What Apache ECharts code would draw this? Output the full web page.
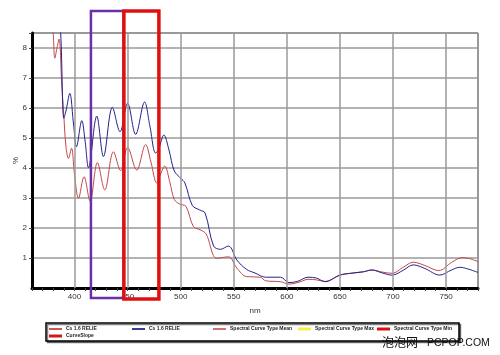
<!DOCTYPE html>
<html>
<head>
<meta charset="utf-8">
<script src="https://cdn.jsdelivr.net/npm/echarts@6/dist/echarts.min.js"></script>
<style>html,body{margin:0;padding:0;background:#fff}#c{width:500px;height:355px}</style>
</head>
<body>
<div id="c"></div>
<script>
// wavelengths (nm) and values (%)
var blueNm  = [380, 384, 387, 390, 392, 395.6, 399, 401.9, 406.9, 410, 413.2, 421, 427.3, 435.7, 442.9, 450, 457.6, 466, 471, 476.4, 479, 484.2, 489, 494, 500, 504, 511, 518, 523, 531, 537.5, 545, 553, 562, 570, 580, 594, 602, 610, 620, 628, 636, 650, 660, 672, 680, 690, 699, 710, 719, 730, 744, 755, 763, 770, 780];
var blueVal = [10.5, 9.5, 8.5, 5.66, 5.9, 6.49, 5.5, 4.71, 5.58, 4.9, 4.01, 5.73, 4.38, 6.02, 5.21, 6.16, 5.12, 6.2, 5.4, 4.5, 4.6, 5.1, 4.6, 3.9, 3.66, 3.5, 2.75, 2.6, 2.5, 1.4, 1.29, 1.4, 0.93, 0.62, 0.5, 0.36, 0.36, 0.18, 0.22, 0.36, 0.33, 0.21, 0.43, 0.49, 0.54, 0.6, 0.5, 0.43, 0.6, 0.77, 0.65, 0.43, 0.6, 0.69, 0.64, 0.52];
var redNm   = [378, 380, 381.5, 383.5, 385.5, 388, 390.2, 392, 394.4, 397.2, 400, 403.8, 409, 414.7, 421.6, 428.5, 436.7, 443.5, 450, 458.6, 467, 472, 477.4, 480, 485, 490, 494, 499, 505, 512, 519, 524, 534, 545, 553, 562, 575, 580, 594, 602, 612, 620, 628, 636, 650, 660, 672, 680, 690, 699, 710, 719, 730, 743, 755, 765, 772, 780];
var redVal  = [9.5, 8.5, 7.66, 8.0, 8.3, 6.8, 5.6, 4.7, 4.32, 4.66, 3.8, 2.99, 3.71, 2.9, 4.18, 3.27, 4.54, 3.91, 4.69, 3.93, 4.78, 4.2, 3.5, 3.7, 4.06, 3.5, 2.95, 2.8, 2.72, 2.05, 1.93, 1.8, 0.99, 1.04, 0.66, 0.38, 0.36, 0.24, 0.21, 0.13, 0.2, 0.29, 0.27, 0.22, 0.43, 0.49, 0.54, 0.6, 0.53, 0.49, 0.7, 0.86, 0.75, 0.58, 0.85, 1.01, 0.98, 0.88];
var xGridNm = [400, 450, 500, 550, 600, 650, 700, 750];
var highlightNm = [415.5, 446.5, 479.5];
var legendNames = ['Cs 1.6 RELIE', 'Cs 1.6 RELIE ', 'Spectral Curve Type Mean', 'Spectral Curve Type Max', 'Spectral Curve Type Min', 'CurveSlope'];
var legendColors = ['#c85a5a', '#3a3a9a', '#d07070', '#f5f04a', '#d81010', '#d01818'];

function pairs(xs, ys) { return xs.map(function (x, i) { return [x, ys[i]]; }); }

var chart = echarts.init(document.getElementById('c'), null, { renderer: 'canvas' });
var font = 'Liberation Sans';

var legends = [
  { name: legendNames[0], left: 49, top: 326.5, h: 2 },
  { name: legendNames[1], left: 132, top: 326.5, h: 2 },
  { name: legendNames[2], left: 213, top: 326.5, h: 2 },
  { name: legendNames[3], left: 298, top: 326.5, h: 3 },
  { name: legendNames[4], left: 377, top: 326.5, h: 3 },
  { name: legendNames[5], left: 49, top: 333.5, h: 3 }
].map(function (l) {
  return {
    data: [l.name], left: l.left, top: l.top, padding: 0, itemGap: 0, z: 20,
    icon: 'rect', itemWidth: 13, itemHeight: l.h, selectedMode: false,
    textStyle: { fontSize: 5, fontWeight: 'bold', color: '#222', fontFamily: 'Liberation Sans', padding: [0, 0, 0, -1] }
  };
});

var series = [
  {
    name: legendNames[0], type: 'line', data: pairs(redNm, redVal), smooth: 0.35,
    showSymbol: false, clip: true, color: legendColors[0],
    lineStyle: { width: 1, color: '#c24848' }, z: 3
  },
  {
    name: legendNames[1], type: 'line', data: pairs(blueNm, blueVal), smooth: 0.35,
    showSymbol: false, clip: true, color: legendColors[1],
    lineStyle: { width: 1, color: '#22228a' }, z: 4
  },
  { name: legendNames[2], type: 'line', data: [], color: legendColors[2] },
  { name: legendNames[3], type: 'line', data: [], color: legendColors[3] },
  { name: legendNames[4], type: 'line', data: [], color: legendColors[4] },
  { name: legendNames[5], type: 'line', data: [], color: legendColors[5] },
  {
    name: 'grid', type: 'line', data: [[xGridNm[0], 0]], showSymbol: false,
    lineStyle: { opacity: 0 }, z: 1, silent: true,
    markLine: {
      silent: true, symbol: 'none', label: { show: false }, animation: false,
      lineStyle: { color: '#9a9a9a', width: 1.5, type: 'solid' },
      data: xGridNm.map(function (v) { return { xAxis: v }; })
    }
  }
];

chart.setOption({
  animation: false,
  backgroundColor: '#fff',
  grid: { left: 32, right: 22, top: 33, bottom: 67, show: true, borderColor: '#333', borderWidth: 1, containLabel: false, outerBoundsMode: 'none' },
  xAxis: {
    type: 'value', min: 360, max: 780, interval: 10,
    name: 'nm', nameLocation: 'middle', nameGap: 19, nameMoveOverlap: false,
    nameTextStyle: { fontSize: 8, color: '#333', fontFamily: font },
    axisLine: { show: true, onZero: false, lineStyle: { color: '#000', width: 3 } },
    axisTick: { show: true, length: 3, lineStyle: { color: '#444', width: 1 } },
    axisLabel: {
      fontSize: 8, color: '#333', fontFamily: font, margin: 5,
      formatter: function (v) { return v % 50 === 0 ? String(v) : ''; }
    },
    splitLine: { show: false }
  },
  yAxis: {
    type: 'value', min: 0, max: 8.5, interval: 1,
    name: '%', nameLocation: 'middle', nameGap: 12, nameRotate: 90, nameMoveOverlap: false,
    nameTextStyle: { fontSize: 8, color: '#333', fontFamily: font },
    axisLine: { show: true, lineStyle: { color: '#000', width: 3 } },
    axisTick: { show: true, length: 3, lineStyle: { color: '#444', width: 1 } },
    axisLabel: {
      fontSize: 8, color: '#333', fontFamily: font, margin: 5,
      showMinLabel: false,
      formatter: function (v) { return Number.isInteger(v) ? String(v) : ''; }
    },
    splitLine: { show: true, lineStyle: { color: '#9a9a9a', width: 1.5 } }
  },
  legend: legends,
  series: series
});

var px = highlightNm.map(function (v) { return chart.convertToPixel({ xAxisIndex: 0 }, v); });

chart.setOption({
  graphic: [
    {
      type: 'rect', z: -10, silent: true,
      shape: { x: 46, y: 323, width: 413, height: 18 },
      style: { fill: '#fff', stroke: '#000', lineWidth: 1.5, shadowColor: 'rgba(0,0,0,0.5)', shadowOffsetX: 1.5, shadowOffsetY: 1.5 }
    },
    {
      type: 'rect', z: 100, silent: true,
      shape: { x: px[0], y: 11, width: px[1] - px[0], height: 287 },
      style: { fill: 'none', stroke: '#6a2ea6', lineWidth: 2.5 }
    },
    {
      type: 'rect', z: 101, silent: true,
      shape: { x: px[1], y: 11, width: px[2] - px[1], height: 288 },
      style: { fill: 'none', stroke: '#e01010', lineWidth: 3.5 }
    },
    {
      type: 'text', z: 100, silent: true, left: 382, top: 336,
      style: { text: '泡泡网', font: '12px "Noto Sans CJK SC"', fill: '#111' }
    },
    {
      type: 'text', z: 100, silent: true, left: 427, top: 337.5,
      style: { text: 'PCPOP.COM', font: '10.5px "Liberation Sans"', fill: '#111' }
    }
  ]
});
</script>
</body>
</html>
